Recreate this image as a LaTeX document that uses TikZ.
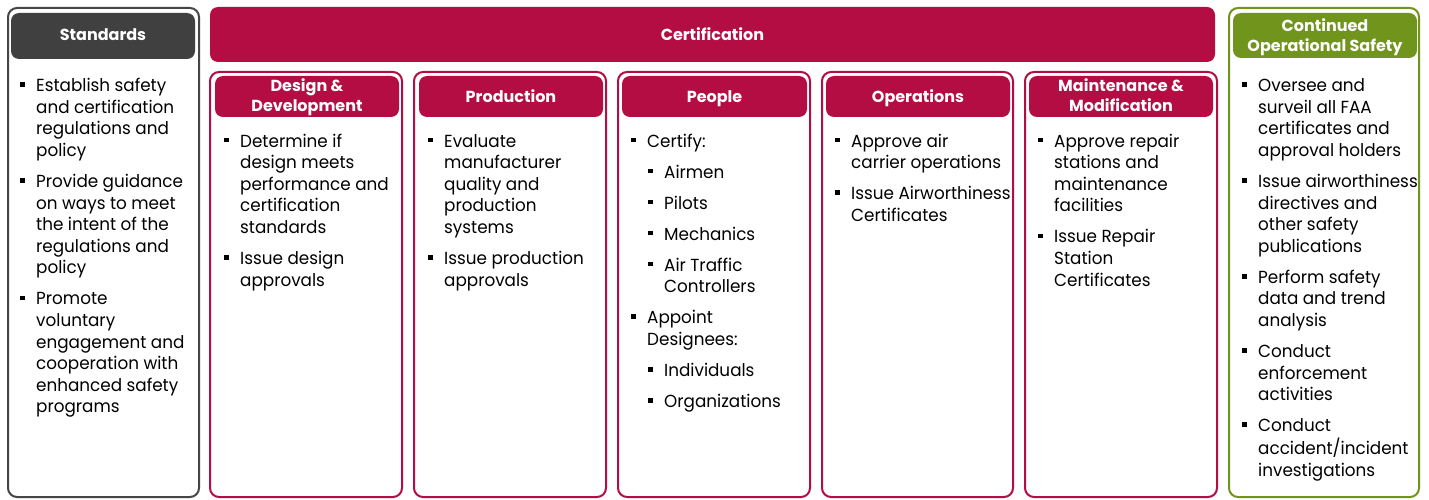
\documentclass[tikz,border=0pt]{standalone}
\usepackage{fontspec}
\setmainfont{Poppins}
\newfontfamily\bodyfont{Poppins}[FakeStretch=0.96]
\definecolor{crim}{RGB}{180,13,68}
\definecolor{dgray}{RGB}{64,64,64}
\definecolor{bgray}{RGB}{70,70,70}
\definecolor{olive}{RGB}{113,148,28}
\newcommand\bl{\makebox[16pt][l]{\raisebox{4.7pt}{\rule{4.6pt}{4.6pt}}}}
\newcommand\ind{\hspace*{16pt}}
\newcommand\indb{\hspace*{17pt}}
\newcommand\hd[1]{\begin{tabular}[t]{@{}c@{}}#1\end{tabular}}
\tikzset{
  outerbox/.style={line width=2pt, rounded corners=9pt, fill=white},
  hdr/.style={rounded corners=8pt},
  hdrtext/.style={text=white, anchor=base, inner sep=0pt, font=\fontsize{16}{20.3}\selectfont\bfseries},
  body/.style={anchor=base west, inner sep=0pt, font=\bodyfont\fontsize{17.5}{21.6}\selectfont, text=black},
}
\begin{document}
\begin{tikzpicture}[x=1pt,y=-1pt]
\useasboundingbox (0,0) rectangle (1429,500);
\fill[white] (0,0) rectangle (1429,500);
% Standards
\draw[outerbox, draw=bgray] (8,8) rectangle (199,497);
\fill[hdr, dgray] (11,13) rectangle (195,59);
\node[hdrtext] (stdh) at (103,41) {\hd{Standards}};
% Certification
\fill[hdr, crim] (210,7) rectangle (1215,62);
\node[hdrtext] (certh) at (712.5,41) {\hd{Certification}};
% sub columns
\foreach \l/\r/\hl/\hr in {210/402/215/399, 414/606/419/603, 618/810/622/807, 822/1013/826/1010, 1025/1217/1029/1213}{
  \draw[outerbox, draw=crim] (\l,72) rectangle (\r,497);
  \fill[hdr, crim] (\hl,76) rectangle (\hr,117);
}
\node[hdrtext] (ddh) at (307,91.7) {\hd{Design \&\\Development}};
\node[hdrtext] (prh) at (511,102.5) {\hd{Production}};
\node[hdrtext] (peh) at (714.5,102.5) {\hd{People}};
\node[hdrtext] (oph) at (918,102.5) {\hd{Operations}};
\node[hdrtext] (mmh) at (1121,91.7) {\hd{Maintenance \&\\Modification}};
% COS
\draw[outerbox, draw=olive] (1229,8) rectangle (1419,497);
\fill[hdr, olive] (1233,13) rectangle (1417,58);
\node[hdrtext] (cosh) at (1325,31.5) {\hd{Continued\\Operational Safety}};
% bodies
\node[body] (stdb) at (20,91.7) {\begin{tabular}[t]{@{}l@{}}
\bl Establish safety\\
\ind and certification\\
\ind regulations and\\
\ind policy\\[9.4pt]
\bl Provide guidance\\
\ind on ways to meet\\
\ind the intent of the\\
\ind regulations and\\
\ind policy\\[9.4pt]
\bl Promote\\
\ind voluntary\\
\ind engagement and\\
\ind cooperation with\\
\ind enhanced safety\\
\ind programs
\end{tabular}};
\node[body] (ddb) at (224,147) {\begin{tabular}[t]{@{}l@{}}
\bl Determine if\\
\ind design meets\\
\ind performance and\\
\ind certification\\
\ind standards\\[9.4pt]
\bl Issue design\\
\ind approvals
\end{tabular}};
\node[body] (prb) at (428,147) {\begin{tabular}[t]{@{}l@{}}
\bl Evaluate\\
\ind manufacturer\\
\ind quality and\\
\ind production\\
\ind systems\\[9.4pt]
\bl Issue production\\
\ind approvals
\end{tabular}};
\node[body] (peb) at (631,147) {\begin{tabular}[t]{@{}l@{}}
\bl Certify:\\[9.4pt]
\indb\bl Airmen\\[9.4pt]
\indb\bl Pilots\\[9.4pt]
\indb\bl Mechanics\\[9.4pt]
\indb\bl Air Traffic\\
\indb\ind Controllers\\[9.4pt]
\bl Appoint\\
\ind Designees:\\[9.4pt]
\indb\bl Individuals\\[9.4pt]
\indb\bl Organizations
\end{tabular}};
\node[body] (opb) at (835,147) {\begin{tabular}[t]{@{}l@{}}
\bl Approve air\\
\ind carrier operations\\[9.4pt]
\bl Issue Airworthiness\\
\ind Certificates
\end{tabular}};
\node[body] (mmb) at (1038,147) {\begin{tabular}[t]{@{}l@{}}
\bl Approve repair\\
\ind stations and\\
\ind maintenance\\
\ind facilities\\[9.4pt]
\bl Issue Repair\\
\ind Station\\
\ind Certificates
\end{tabular}};
\node[body] (cosb) at (1242,91.7) {\begin{tabular}[t]{@{}l@{}}
\bl Oversee and\\
\ind surveil all FAA\\
\ind certificates and\\
\ind approval holders\\[9.4pt]
\bl Issue airworthiness\\
\ind directives and\\
\ind other safety\\
\ind publications\\[9.4pt]
\bl Perform safety\\
\ind data and trend\\
\ind analysis\\[9.4pt]
\bl Conduct\\
\ind enforcement\\
\ind activities\\[9.4pt]
\bl Conduct\\
\ind accident/incident\\
\ind investigations
\end{tabular}};
\end{tikzpicture}
\end{document}
